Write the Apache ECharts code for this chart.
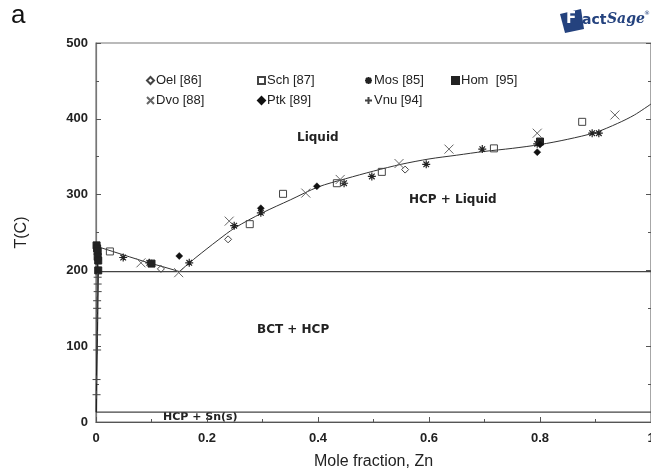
<!DOCTYPE html>
<html>
<head>
<meta charset="utf-8">
<script src="https://cdn.jsdelivr.net/npm/echarts@6/dist/echarts.min.js"></script>
<style>html,body{margin:0;padding:0;background:#fff;overflow:hidden;width:651px;height:474px;}#c{width:651px;height:474px;}</style>
</head>
<body>
<div id="c"></div>
<script>
// ---- calculated phase boundaries ----
var liqSnX = [0, 0.03, 0.06, 0.09, 0.12, 0.15];
var liqSnT = [232, 225, 218, 211, 205, 198.5];
var liqZnX = [0.15, 0.18, 0.22, 0.25, 0.30, 0.35, 0.40, 0.45, 0.50, 0.55, 0.60, 0.65, 0.70, 0.75, 0.80, 0.85, 0.90, 0.94, 0.97, 1.0];
var liqZnT = [198.5, 217, 240, 256, 276, 293, 310, 321, 331, 340, 347, 352, 357, 361, 366, 373, 382, 394, 405, 419.5];
var eutX = [0, 1];
var eutT = [198.5, 198.5];
var lowX = [0, 1];
var lowT = [13, 13];
var solvX = [0, 0.004, 0.003, 0.002, 0.001, 0.0005];
var solvT = [232, 198.5, 150, 100, 50, 13];
// ---- experimental data ----
var oelX = [0.117, 0.238, 0.557];
var oelT = [202, 241, 333];
var schX = [0.025, 0.277, 0.337, 0.434, 0.515, 0.717, 0.876];
var schT = [225, 261, 301, 315, 330, 361, 396];
var mosX = [0.049, 0.096, 0.168, 0.249, 0.297, 0.447, 0.497, 0.595, 0.696, 0.795, 0.894, 0.906];
var mosT = [217, 210, 210, 259, 276, 315, 324, 340, 360, 367, 381, 381];
var homX = [0.001, 0.002, 0.003, 0.003, 0.004, 0.004, 0.1, 0.8];
var homT = [233, 229, 225, 218, 213, 200, 209, 370];
var dvoX = [0.081, 0.149, 0.24, 0.378, 0.44, 0.546, 0.636, 0.795, 0.935];
var dvoT = [210, 197, 265, 302, 320, 341, 360, 381, 405];
var ptkX = [0.15, 0.297, 0.398, 0.795, 0.8];
var ptkT = [219, 282, 311, 356, 366];
var vnuX = [0.003, 0.003, 0.003, 0.002, 0.002, 0.002, 0.002, 0.002, 0.001, 0.001];
var vnuT = [191, 182, 172, 160, 150, 137, 115, 95, 56, 36];
// ---- labels ----
var xTicks = [0, 0.2, 0.4, 0.6, 0.8, 1];
var yTicks = [0, 100, 200, 300, 400, 500];

function zip(a, b) { return a.map(function (v, i) { return [v, b[i]]; }); }

var PLUS = 'path://M0,5L10,5M5,0L5,10';
var CROSS = 'path://M0,0L10,10M10,0L0,10';
var STAR = 'path://M5,0L5,10M0,5L10,5M1.5,1.5L8.5,8.5M8.5,1.5L1.5,8.5';
var ODIAM = 'path://M5,0L10,5L5,10L0,5Z';
var ORECT = 'path://M0,0L10,0L10,10L0,10Z';
var NONE = 'rgba(0,0,0,0)';

function lineS(name, xs, ts, smooth) {
  return { name: name, type: 'line', data: zip(xs, ts), showSymbol: false, smooth: smooth || false,
    lineStyle: { color: '#333', width: 1 }, silent: true, z: 2 };
}
function scat(name, xs, ts, symbol, size, fill, stroke, bw) {
  return { name: name, type: 'scatter', data: zip(xs, ts), symbol: symbol, symbolSize: size,
    itemStyle: { color: fill, borderColor: stroke, borderWidth: bw, opacity: 1 }, z: 3 };
}
function leg(name, left, top) {
  return { data: [name], left: left, top: top, padding: 0, itemWidth: 7, itemHeight: 7, itemGap: 0,
    selectedMode: false,
    textStyle: { fontFamily: 'Liberation Sans, Arial', fontSize: 13, color: '#222', padding: [0, 0, 0, -3] } };
}

var chart = echarts.init(document.getElementById('c'), null, { renderer: 'canvas', width: 651, height: 474 });
var axisLab = { fontFamily: 'Liberation Sans, Arial', fontSize: 13, fontWeight: 'bold', color: '#222' };
chart.setOption({
  animation: false,
  backgroundColor: '#fff',
  grid: { left: 96, right: 0, top: 43, bottom: 52, outerBoundsMode: 'none', containLabel: false,
    show: true, borderColor: '#777', borderWidth: 1.2 },
  legend: [
    leg('Oel [86]', 146, 74), leg('Sch [87]', 257, 74), leg('Mos [85]', 364, 74), leg('Hom  [95]', 451, 74),
    leg('Dvo [88]', 146, 94), leg('Ptk [89]', 257, 94), leg('Vnu [94]', 364, 94)
  ],
  xAxis: [{
    type: 'value', min: 0, max: 1, interval: 0.2,
    name: 'Mole fraction, Zn', nameLocation: 'middle', nameGap: 32,
    nameTextStyle: { fontFamily: 'Liberation Sans, Arial', fontSize: 16, color: '#222' },
    axisLine: { lineStyle: { color: '#555', width: 1.2 } },
    axisTick: { inside: true, length: 5, lineStyle: { color: '#555' } },
    minorTick: { show: true, splitNumber: 2, length: 3, lineStyle: { color: '#555' } },
    splitLine: { show: false },
    axisLabel: Object.assign({ margin: 10, formatter: function (v) { return xTicks.indexOf(+v.toFixed(1)) >= 0 ? String(+v.toFixed(1)) : ''; } }, axisLab)
  }],
  yAxis: [{
    type: 'value', min: 0, max: 500, interval: 100,
    name: 'T(C)', nameLocation: 'middle', nameGap: 66, nameRotate: 90,
    nameTextStyle: { fontFamily: 'Liberation Sans, Arial', fontSize: 16, color: '#222' },
    axisLine: { lineStyle: { color: '#777', width: 1.2 } },
    axisTick: { inside: true, length: 5, lineStyle: { color: '#555' } },
    minorTick: { show: true, splitNumber: 2, length: 3, lineStyle: { color: '#555' } },
    splitLine: { show: false },
    axisLabel: Object.assign({ margin: 8, formatter: function (v) { return yTicks.indexOf(v) >= 0 ? String(v) : ''; } }, axisLab)
  }, {
    type: 'value', min: 0, max: 500, interval: 100, position: 'right',
    axisLine: { show: true, lineStyle: { color: '#777', width: 1.2 } },
    axisTick: { inside: true, length: 5, lineStyle: { color: '#555' } },
    minorTick: { show: true, splitNumber: 2, length: 3, lineStyle: { color: '#555' } },
    splitLine: { show: false }, axisLabel: { show: false }
  }],
  series: [
    lineS('liqSn', liqSnX, liqSnT, false),
    lineS('liqZn', liqZnX, liqZnT, 0.3),
    Object.assign(lineS('eut', eutX, eutT), { lineStyle: { color: '#444', width: 1.3 } }),
    Object.assign(lineS('low', lowX, lowT), { lineStyle: { color: '#444', width: 1.3 } }),
    Object.assign(lineS('solv', solvX, solvT), { lineStyle: { color: '#222', width: 1.5 } }),
    scat('Oel [86]', oelX, oelT, ODIAM, 7, NONE, '#444', 1),
    scat('Sch [87]', schX, schT, ORECT, 7, NONE, '#444', 1),
    scat('Mos [85]', mosX, mosT, STAR, 8, NONE, '#222', 1.2),
    scat('Hom  [95]', homX, homT, 'rect', 7, '#222', '#222', 1),
    scat('Dvo [88]', dvoX, dvoT, CROSS, 9, NONE, '#666', 1),
    scat('Ptk [89]', ptkX, ptkT, 'diamond', 7, '#111', '#111', 0.5),
    scat('Vnu [94]', vnuX, vnuT, PLUS, 8, NONE, '#444', 1)
  ],
  graphic: [
    { type: 'text', left: 11, top: 3, style: { text: 'a', fontFamily: 'Liberation Sans, Arial', fontSize: 26, fill: '#111' } },
    { type: 'text', left: 297, top: 132, style: { text: 'Liquid', fontFamily: 'DejaVu Sans', fontWeight: 'bold', fontSize: 12, fill: '#222' } },
    { type: 'text', left: 409, top: 194, style: { text: 'HCP + Liquid', fontFamily: 'DejaVu Sans', fontWeight: 'bold', fontSize: 12, fill: '#222' } },
    { type: 'text', left: 257, top: 324, style: { text: 'BCT + HCP', fontFamily: 'DejaVu Sans', fontWeight: 'bold', fontSize: 12, fill: '#222' } },
    { type: 'text', left: 163, top: 412, style: { text: 'HCP + Sn(s)', fontFamily: 'DejaVu Sans', fontWeight: 'bold', fontSize: 11, fill: '#222' } },
    { type: 'polygon', shape: { points: [[560, 14], [581, 9], [584, 29], [565, 33]] }, style: { fill: '#24427e' } },
    { type: 'text', left: 566, top: 12, style: { text: 'F', fontFamily: 'DejaVu Sans', fontWeight: 'bold', fontSize: 15, fill: '#fff' } },
    { type: 'text', left: 582, top: 13, style: { text: 'act', fontFamily: 'DejaVu Sans', fontWeight: 'bold', fontSize: 14, fill: '#24427e' } },
    { type: 'text', left: 607, top: 12, style: { text: 'Sage', fontFamily: 'DejaVu Serif', fontWeight: 'bold', fontStyle: 'italic', fontSize: 14, fill: '#24427e' } },
    { type: 'text', left: 644, top: 10, style: { text: '®', fontFamily: 'DejaVu Sans', fontSize: 6, fill: '#24427e' } }
  ]
});
</script>
</body>
</html>
